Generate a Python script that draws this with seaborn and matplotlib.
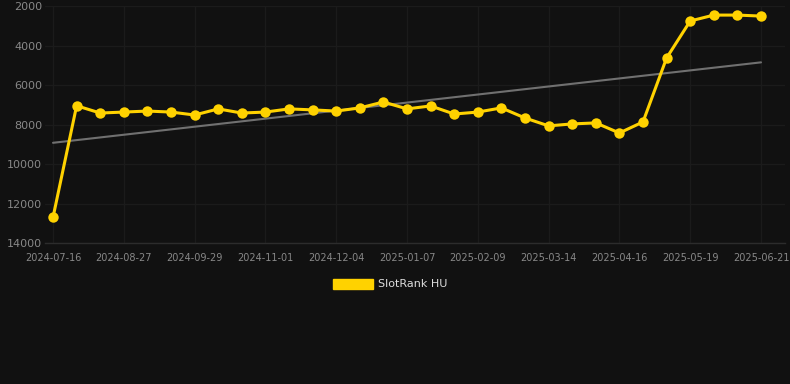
import numpy as np
import pandas as pd
import matplotlib
matplotlib.use("Agg")
import matplotlib.pyplot as plt
from matplotlib.patches import Patch
import seaborn as sns

dates = ["2024-07-16", "2024-07-30", "2024-08-13", "2024-08-27", "2024-09-07",
         "2024-09-18", "2024-09-29", "2024-10-10", "2024-10-21", "2024-11-01",
         "2024-11-12", "2024-11-23", "2024-12-04", "2024-12-15", "2024-12-26",
         "2025-01-07", "2025-01-18", "2025-01-29", "2025-02-09", "2025-02-20",
         "2025-03-03", "2025-03-14", "2025-03-25", "2025-04-05", "2025-04-16",
         "2025-04-27", "2025-05-08", "2025-05-19", "2025-05-30", "2025-06-10",
         "2025-06-21"]
ranks = [12700, 7050, 7420, 7370, 7320, 7370, 7520, 7210, 7420, 7370,
         7210, 7260, 7320, 7160, 6860, 7210, 7060, 7470, 7370, 7160,
         7670, 8070, 7970, 7920, 8430, 7870, 4630, 2760, 2460, 2460, 2510]
series_name = "SlotRank HU"
y_ticks = [2000, 4000, 6000, 8000, 10000, 12000, 14000]

bg = "#111111"
gold = "#FFD200"

df = pd.DataFrame({"pos": np.arange(len(dates)), "date": dates, "rank": ranks})
coef = np.polyfit(df["pos"], df["rank"], 1)
df["trend"] = np.polyval(coef, df["pos"])

sns.set_theme(style="dark")
plt.rcParams['font.family'] = ['DejaVu Sans']

fig = plt.figure(figsize=(7.9, 3.84), dpi=100, facecolor=bg)
ax = fig.add_axes([45/790, 1 - 243/384, (785-45)/790, (243-6)/384])
ax.set_facecolor(bg)

sns.lineplot(data=df, x="pos", y="trend", ax=ax, color="#707070", linewidth=1.5, zorder=2)
sns.lineplot(data=df, x="pos", y="rank", ax=ax, color=gold, linewidth=2.2,
             marker="o", markersize=7.5, markeredgewidth=0, zorder=3)

ax.set_ylim(14000, 2000)
ax.set_xlim(-0.34, 30 + 24/23.6)
ax.set_yticks(y_ticks)
ax.set_yticklabels([str(t) for t in y_ticks])
tick_pos = list(range(0, len(dates), 3))
ax.set_xticks(tick_pos)
ax.set_xticklabels([dates[i] for i in tick_pos])
ax.set_xlabel("")
ax.set_ylabel("")

ax.grid(True, color="#1b1b1b", linewidth=1)
for s in ["top", "right", "left"]:
    ax.spines[s].set_visible(False)
ax.spines["bottom"].set_color("#2c2c2c")
ax.spines["bottom"].set_linewidth(1)
ax.tick_params(axis="y", colors="#888888", labelsize=8, length=0, pad=2)
ax.tick_params(axis="x", colors="#888888", labelsize=7, length=4, width=1, pad=3,
               color="#2c2c2c", labelcolor="#888888")

handles = [Patch(facecolor=gold, edgecolor=gold, label=series_name)]
fig.legend(handles=handles, loc="center", bbox_to_anchor=(390/790, 1 - 284/384),
           frameon=False, fontsize=8, labelcolor="#dddddd",
           handlelength=3.6, handleheight=1.0, handletextpad=0.5)

fig.savefig("out.png", dpi=100, facecolor=bg)
